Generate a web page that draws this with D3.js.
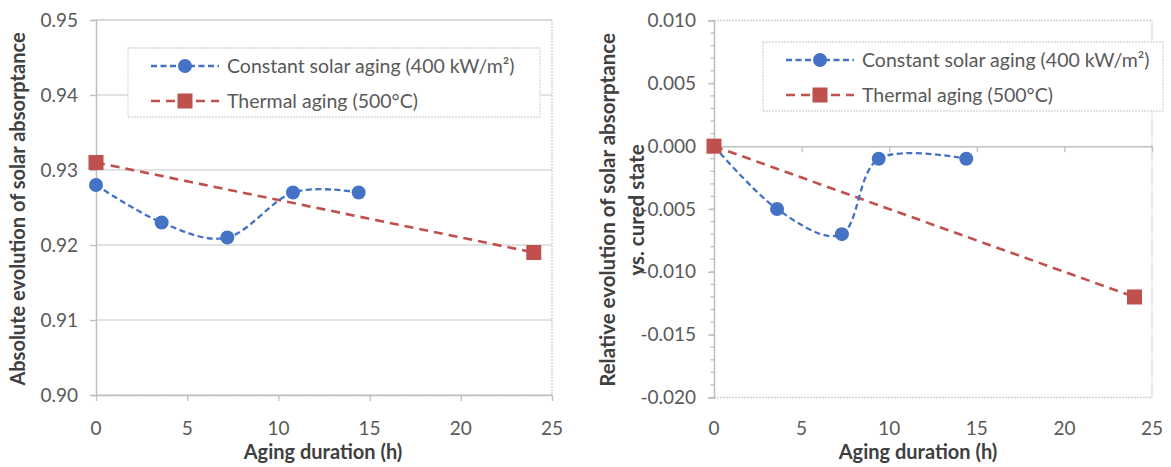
<!DOCTYPE html>
<html><head><meta charset="utf-8">
<script src="https://cdn.jsdelivr.net/npm/d3@7/dist/d3.min.js"></script>
<style>body{margin:0;background:#fff}svg{display:block}</style>
</head><body><svg id="c" width="1171" height="467"></svg>
<script>
// ---- data ----
const xTicks = [0, 5, 10, 15, 20, 25];
const yTicksAbs = [0.90, 0.91, 0.92, 0.93, 0.94, 0.95];
const yTicksRel = [-0.020, -0.015, -0.010, -0.005, 0.000, 0.005, 0.010];
const seriesNames = ["Constant solar aging (400 kW/m²)", "Thermal aging (500°C)"];
const timeSolar = [0, 3.6, 7.2, 10.8, 14.4];
const solarAbs = [0.928, 0.923, 0.921, 0.927, 0.927];
const timeThermal = [0, 24];
const thermalAbs = [0.931, 0.919];
const timeSolarRel = [0, 3.6, 7.3, 9.4, 14.4];
const solarRel = [0, -0.005, -0.007, -0.001, -0.001];
const thermalRel = [0, -0.012];

const BLUE = "#4472C4", RED = "#C0504D";
const svg = d3.select("#c");
const FONT = "Lato, 'Open Sans', sans-serif";

function panel(cfg) {
  const g = svg.append("g");
  const x = d3.scaleLinear().domain([0, 25]).range(cfg.xr);
  const y = d3.scaleLinear().domain(cfg.yd).range(cfg.yr);
  const [x0, x1] = cfg.xr, [yb, yt] = cfg.yr;

  if (cfg.grid) {
    g.selectAll(".grid").data(cfg.yTicks.slice(1)).join("line")
      .attr("x1", x0).attr("x2", x1).attr("y1", d => y(d)).attr("y2", d => y(d))
      .attr("stroke", "#d9d9d9").attr("stroke-width", 1.3);
  }
  g.append("path").attr("d", `M${x0},${yt}H${x1}V${yb}H${x0}`).attr("fill", "none")
    .attr("stroke", "#d0d0d0").attr("stroke-width", 1.3).attr("stroke-dasharray", "2,1");

  if (cfg.minor) {
    const minor = d3.range(Math.round(cfg.yd[0] / cfg.minor), Math.round(cfg.yd[1] / cfg.minor) + 1).map(i => i * cfg.minor);
    g.selectAll(".mn").data(minor).join("line")
      .attr("x1", x0 - 3.5).attr("x2", x0).attr("y1", d => y(d)).attr("y2", d => y(d))
      .attr("stroke", "#bfbfbf").attr("stroke-width", 1.3);
  }
  const ya = g.append("g").attr("transform", `translate(${x0},0)`)
    .call(d3.axisLeft(y).tickValues(cfg.yTicks).tickSize(6).tickPadding(12)
      .tickFormat(d => cfg.yFmt(d).replace("\u2212", "-")));
  ya.select(".domain").attr("stroke", "#bfbfbf").attr("stroke-width", 1.5);
  ya.selectAll(".tick line").attr("stroke", "#bfbfbf").attr("stroke-width", 1.3);
  ya.selectAll("text").attr("fill", "#595959").style("font", `19px ${FONT}`);

  const xa = g.append("g").attr("transform", `translate(0,${y(cfg.xCross)})`)
    .call(d3.axisBottom(x).tickValues(xTicks).tickSize(6).tickSizeOuter(0).tickFormat(""));
  xa.select(".domain").attr("stroke", "#bfbfbf").attr("stroke-width", 1.5);
  xa.selectAll(".tick line").attr("stroke", "#bfbfbf").attr("stroke-width", 1.3);
  g.selectAll(".xl").data(xTicks).join("text")
    .attr("x", d => x(d)).attr("y", 435).attr("text-anchor", "middle")
    .attr("fill", "#595959").style("font", `19px ${FONT}`).text(d => d);

  const lineS = d3.line().x(d => x(d[0])).y(d => y(d[1])).curve(d3.curveCatmullRom.alpha(0));
  const lineT = d3.line().x(d => x(d[0])).y(d => y(d[1]));
  const sData = cfg.ts.map((t, i) => [t, cfg.sv[i]]);
  const tData = timeThermal.map((t, i) => [t, cfg.tv[i]]);
  g.append("path").attr("d", lineT(tData)).attr("fill", "none").attr("stroke", RED)
    .attr("stroke-width", 2.6).attr("stroke-dasharray", "9,6");
  g.append("path").attr("d", lineS(sData)).attr("fill", "none").attr("stroke", BLUE)
    .attr("stroke-width", 2.3).attr("stroke-dasharray", "6,3.5");
  g.selectAll(".pt").data(sData).join("circle")
    .attr("cx", d => x(d[0])).attr("cy", d => y(d[1])).attr("r", 7).attr("fill", BLUE);
  g.selectAll(".sq").data(tData).join("rect")
    .attr("x", d => x(d[0]) - 7.5).attr("y", d => y(d[1]) - 7.5).attr("width", 15).attr("height", 15).attr("fill", RED);

  const L = cfg.legend;
  g.append("rect").attr("x", L.x).attr("y", L.y).attr("width", L.w).attr("height", L.h)
    .attr("fill", "#fff").attr("stroke", "#d9d9d9").attr("stroke-width", 1.3).attr("stroke-dasharray", "2,1");
  const rows = [L.y + 18, L.y + 53];
  const lx0 = L.x + 23, lx1 = L.x + 91, lm = (lx0 + lx1) / 2;
  g.append("line").attr("x1", lx0).attr("x2", lx1).attr("y1", rows[0]).attr("y2", rows[0])
    .attr("stroke", BLUE).attr("stroke-width", 2.3).attr("stroke-dasharray", "6,3.5");
  g.append("circle").attr("cx", lm).attr("cy", rows[0]).attr("r", 7).attr("fill", BLUE);
  g.append("line").attr("x1", lx0).attr("x2", lx1).attr("y1", rows[1]).attr("y2", rows[1])
    .attr("stroke", RED).attr("stroke-width", 2.6).attr("stroke-dasharray", "9,6");
  g.append("rect").attr("x", lm - 7.5).attr("y", rows[1] - 7.5).attr("width", 15).attr("height", 15).attr("fill", RED);
  seriesNames.forEach((n, i) => {
    g.append("text").attr("x", L.x + 99).attr("y", rows[i]).attr("dy", "0.35em")
      .attr("fill", "#595959").style("font", `19.5px ${FONT}`).text(n);
  });

  g.append("text").attr("x", cfg.xTitleX).attr("y", 459).attr("text-anchor", "middle")
    .attr("fill", "#404040").style("font", `bold 20px ${FONT}`).text("Aging duration (h)");
  cfg.yTitle.forEach((t, i) => {
    g.append("text").attr("transform", `translate(${cfg.yTitleX[i]},${cfg.yTitleY}) rotate(-90)`)
      .attr("text-anchor", "middle").attr("dy", "0.35em")
      .attr("fill", "#404040").style("font", `bold ${cfg.yTitleSize}px ${FONT}`).text(t);
  });
}

panel({
  xr: [96, 552], yd: [0.90, 0.95], yr: [395, 20], yTicks: yTicksAbs, yFmt: d3.format(".2f"),
  grid: true, minor: null, xCross: 0.90,
  ts: timeSolar, sv: solarAbs, tv: thermalAbs,
  legend: { x: 128, y: 48, w: 412, h: 69 },
  xTitleX: 323, yTitle: ["Absolute evolution of solar absorptance"], yTitleX: [18], yTitleY: 209, yTitleSize: 20
});
panel({
  xr: [714, 1152], yd: [-0.02, 0.01], yr: [397.5, 20.5], yTicks: yTicksRel, yFmt: d3.format(".3f"),
  grid: false, minor: 0.001, xCross: 0,
  ts: timeSolarRel, sv: solarRel, tv: thermalRel,
  legend: { x: 763, y: 42, w: 400, h: 69 },
  xTitleX: 918, yTitle: ["Relative evolution of solar absorptance", "vs. cured  state"], yTitleX: [608, 637], yTitleY: 210, yTitleSize: 20.5
});
</script></body></html>
